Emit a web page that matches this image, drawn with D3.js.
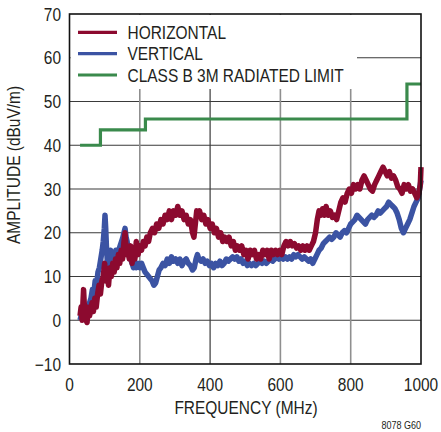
<!DOCTYPE html>
<html><head><meta charset="utf-8">
<script src="https://cdn.jsdelivr.net/npm/d3@7"></script>
<style>body{margin:0;background:#fff}svg{display:block}text{font-family:"Liberation Sans","Arial",sans-serif;fill:#231f20}</style>
</head><body><svg id="c" width="441" height="432"></svg>
<script>
const xTicks = [0, 200, 400, 600, 800, 1000];
const yTicks = [-10, 0, 10, 20, 30, 40, 50, 60, 70];
const seriesNames = ["HORIZONTAL", "VERTICAL", "CLASS B 3M RADIATED LIMIT"];
const horizontal = [[30,1],[33,3],[36,0],[40,7],[43,2],[47,0],[50,-0.5],[53,3],[57,1],[60,2],[64,4],[68,2],[72,5],[76,3],[80,6],[84,8],[88,6],[92,9],[96,10],[100,13],[103,9],[107,11],[111,8],[115,12],[119,10],[123,13],[127,11],[131,14],[135,12],[139,15],[143,13],[147,16],[151,14],[155,18],[158,20],[162,15],[166,17],[170,14],[174,17],[178,13],[182,16],[186,14],[190,18],[195,15],[200,17],[205,16],[210,18],[215,17],[220,19],[225,18],[230,20],[236,21],[242,20],[248,22],[254,21],[260,23],[266,22],[272,24],[278,23],[284,25],[290,23],[296,25],[302,24],[308,26],[314,24],[320,25],[326,23],[332,24],[338,22],[344,23],[350,20],[354,19],[358,22],[362,25],[366,24],[370,25],[376,23],[382,24],[388,22],[394,23],[400,21],[406,22],[412,20],[418,21],[424,19],[430,20],[436,18],[442,19],[448,18],[454,19],[460,17],[466,18],[472,16],[478,17],[484,16],[490,17],[496,15],[502,16],[508,14],[514,16],[520,15],[526,16],[532,14],[538,15],[544,14],[550,16],[556,15],[562,16],[568,14],[574,16],[580,15],[586,16],[592,15],[598,16],[604,15],[610,17],[616,18],[622,17],[628,18],[634,17],[640,17.5],[646,16.5],[652,17],[658,16],[664,17],[670,16],[676,17],[682,16],[688,17],[694,18],[700,20],[705,23],[710,25],[715,24],[720,25.5],[725,24],[730,26],[736,24],[742,25],[748,23.5],[754,24],[760,23],[766,25],[772,27],[778,28],[784,27],[790,29],[796,30],[802,29],[808,31],[814,30],[820,31],[826,30],[832,32],[838,33],[844,32],[850,31],[856,30],[862,29.5],[868,31],[874,32],[880,33],[886,34],[892,35],[898,34],[904,33],[910,34],[916,32.5],[922,33],[928,32],[934,30.5],[940,30],[946,29],[952,31],[958,30],[964,31],[970,29.5],[976,30],[982,29],[988,28],[994,29],[998,31],[1000,35]];
const vertical = [[30,0],[33,1],[37,0.5],[41,2],[45,1],[49,3],[53,2],[57,4],[61,5],[65,7],[69,6],[73,9],[77,8],[81,11],[85,12],[89,14],[93,16],[96,18],[99,21],[101,24],[103,21],[105,17],[108,13],[111,12],[114,14],[117,16],[120,15],[124,15],[128,14],[132,16],[136,15],[140,16],[144,17],[148,18],[152,19],[155,20],[158,21],[161,19],[164,18],[167,16],[170,15],[174,14],[178,13],[182,12],[186,13],[190,12],[195,13],[200,12],[205,13],[210,12],[215,11],[220,10.5],[225,10],[230,9.5],[235,9],[240,8],[245,8.5],[250,10],[255,11.5],[260,12],[266,13],[272,12.5],[278,14],[284,13],[290,14.5],[296,13.5],[302,14],[308,13],[314,14],[320,12.5],[326,13.5],[332,14],[338,13],[344,12.5],[350,11.5],[355,12],[360,14],[364,15],[368,14],[374,13.5],[380,14],[386,13],[392,13.5],[398,12.5],[404,13],[410,12],[416,13],[422,12.5],[428,13.5],[434,12.5],[440,13],[446,14],[452,13.5],[458,14],[464,14.5],[470,14],[476,14.5],[482,13.5],[488,14],[494,13],[500,13.5],[506,12.5],[512,13],[518,12.5],[524,13],[530,12.5],[536,13],[542,13.5],[548,13],[554,13.5],[560,13],[566,13.5],[572,14],[578,13.5],[584,14],[590,14.5],[596,14],[602,14.5],[608,14],[614,14.5],[620,14],[626,14.5],[632,14],[638,15],[644,14.5],[650,15],[656,14.5],[662,14],[668,14.5],[674,14],[680,13.5],[686,14],[692,13],[698,14],[704,15],[710,16],[716,16.5],[722,17.5],[728,18],[734,18.5],[740,19],[746,18.5],[752,19],[758,20],[764,19.5],[770,19],[776,20],[782,20.5],[788,20],[794,21],[800,22],[806,22.5],[812,23],[818,24],[824,23.5],[830,23],[836,22.5],[842,22],[848,23],[854,23.5],[860,24],[866,23.5],[872,24],[878,25],[884,24.5],[890,25],[896,25.5],[902,26],[908,27],[914,26.5],[920,26],[926,25.5],[932,24.5],[938,23],[944,21],[950,20],[956,21],[962,22],[968,23],[974,24.5],[980,26],[986,27],[992,28],[996,30],[1000,32]];
const limit = [[30,40],[88,40],[88,43.5],[216,43.5],[216,46],[960,46],[960,54],[1000,54]];

const colors = {h:"#8c0a2f", v:"#3b53a3", g:"#3a8a4c"};
const svg = d3.select("#c");
const L = 69.5, R = 421, T = 14, B = 364;
const x = d3.scaleLinear().domain([0,1000]).range([L,R]);
const y = d3.scaleLinear().domain([-10,70]).range([B,T]);
const SX = 0.86;

function label(px, py, str, opts) {
  opts = opts || {};
  const rot = opts.rotate ? " rotate(-90)" : "";
  return svg.append("text")
    .attr("transform", `translate(${px},${py})${rot} scale(${SX},1)`)
    .attr("text-anchor", opts.anchor || "start")
    .attr("font-size", opts.size || 18)
    .text(str);
}

// grid
const g = svg.append("g");
yTicks.filter(v => v>-10 && v<70).forEach(v => {
  g.append("line").attr("x1",L).attr("x2",R).attr("y1",y(v)).attr("y2",y(v))
   .attr("stroke","#3a3a3a").attr("stroke-width",1.2);
});
xTicks.filter(v => v>0 && v<1000).forEach(v => {
  g.append("line").attr("x1",x(v)).attr("x2",x(v)).attr("y1",T).attr("y2",B)
   .attr("stroke", v===400 ? "#3a3a3a" : "#8f8f8f").attr("stroke-width", v===400?1.2:1.6);
});
// legend mask
svg.append("rect").attr("x",L+1).attr("y",T+1).attr("width",357-L-1).attr("height",89-T-1).attr("fill","#fff");

const line = d3.line().x(d => x(d[0])).y(d => y(d[1]));
svg.append("path").datum(limit).attr("d",line).attr("fill","none").attr("stroke",colors.g).attr("stroke-width",3.2);
svg.append("path").datum(vertical).attr("d",line).attr("fill","none").attr("stroke",colors.v).attr("stroke-width",5.5).attr("stroke-linejoin","round");
svg.append("path").datum(horizontal).attr("d",line).attr("fill","none").attr("stroke",colors.h).attr("stroke-width",5.5).attr("stroke-linejoin","round");

// frame
svg.append("rect").attr("x",L).attr("y",T).attr("width",R-L).attr("height",B-T).attr("fill","none").attr("stroke","#111").attr("stroke-width",1.6);

// legend
const legColors = [colors.h, colors.v, colors.g];
const legY = [32.3, 53.7, 75];
seriesNames.forEach((n,i) => {
  svg.append("line").attr("x1",78).attr("x2",117).attr("y1",legY[i]).attr("y2",legY[i]).attr("stroke",legColors[i]).attr("stroke-width",3.2);
  label(127.5, legY[i]+6.6, n);
});

// tick labels
yTicks.forEach(v => label(61, y(v)+6.5, v<0 ? "\u2212"+Math.abs(v) : String(v), {anchor:"end"}));
xTicks.forEach(v => label(x(v), 391, String(v), {anchor:"middle"}));
label(246, 414, "FREQUENCY (MHz)", {anchor:"middle"});
label(20, 165, "AMPLITUDE (dBuV/m)", {anchor:"middle", rotate:true});
label(421, 429, "8078 G60", {anchor:"end", size:10.5});
</script></body></html>
